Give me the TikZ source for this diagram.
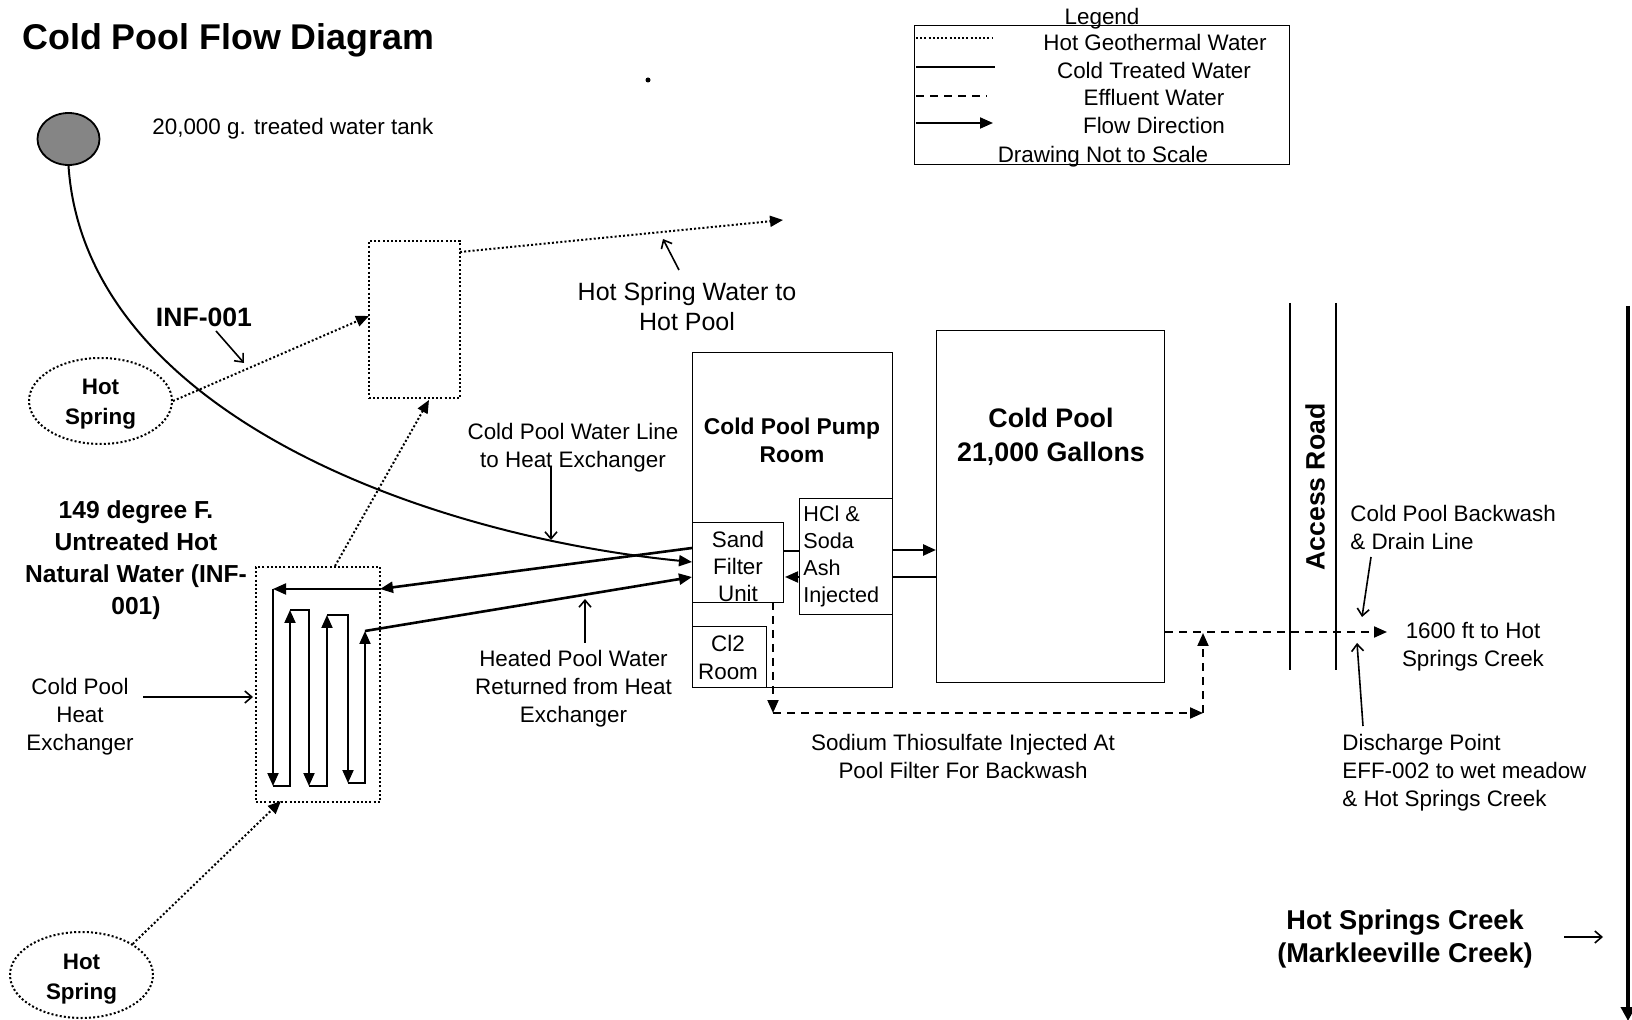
\documentclass[tikz,border=0pt]{standalone}
\usepackage{fontspec}
\setmainfont{Liberation Sans}
\usetikzlibrary{arrows.meta}
\usetikzlibrary{shapes.geometric}
\tikzset{
    lbl/.style={inner sep=0pt,align=center,yshift=-1.2pt,font=\fontsize{11.2}{14}\selectfont},
    lblbold/.style={inner sep=0pt,align=center,yshift=-1.2pt,font=\fontsize{11.4}{14.2}\selectfont\bfseries},
    room/.style={draw,line width=0.6pt,anchor=north west,inner sep=0pt},
    hotline/.style={line width=1pt,dash pattern=on 1pt off 1.1pt},
    coldline/.style={line width=0.7pt},
    effline/.style={line width=1pt,dash pattern=on 4pt off 3pt},
    flowtip/.style={-{Triangle[length=6.5pt,width=5.5pt]}},
    pipe/.style={line width=1pt,flowtip},
    mainpipe/.style={line width=1.3pt,flowtip},
    spring/.style={draw,ellipse,hotline,inner sep=0pt,minimum width=71.5pt,minimum height=43pt},
    callout/.style={line width=0.8pt,-{Straight Barb[length=3.5pt,width=6pt]}}
}
\begin{document}
\begin{tikzpicture}[x=0.5pt,y=-0.5pt]
        \useasboundingbox (0,0) rectangle (1632,1020);
        \node[inner sep=0pt,anchor=west,font=\fontsize{17.9}{20}\selectfont\bfseries] (title) at (22,40) {Cold Pool Flow Diagram};
        \fill (648,80) circle (2.5);

        \node[room,minimum width=187.5pt,minimum height=69.5pt] (legend) at (914,25) {};
        \node[lbl] (legendhead) at (1102,16) {Legend};
        \node[lbl] (legendgeo) at (1155,40) {Hot Geothermal Water};
        \node[lbl] (legendcold) at (1154,68) {Cold Treated Water};
        \node[lbl] (legendeff) at (1154,95.5) {Effluent Water};
        \node[lbl] (legendflow) at (1154,123) {Flow Direction};
        \node[lbl] (legendscale) at (1103,154) {Drawing Not to Scale};
        \foreach \nm/\yy/\xe/\sty in {geo/38/993/hotline,cold/67/995/coldline,eff/96/987/effline,flow/123/993/pipe}{
            \coordinate (\nm a) at (916,\yy);
            \coordinate (\nm b) at (\xe,\yy);
            \draw[\sty] (\nm a) -- (\nm b);
        }

        \node[draw,ellipse,line width=0.9pt,fill=black!48,inner sep=0pt,minimum width=31pt,minimum height=26pt] (tank) at (68.5,139) {};
        \node[lbl,anchor=west] (tanklabel) at (152,126) {20,000 g. treated water tank};
        \node[spring] (springtop) at (100.5,401) {};
        \node[spring] (springbot) at (81.5,975) {};
        \node[lblbold,font=\fontsize{11.2}{15}\selectfont\bfseries] (springtoplabel) at (100.5,402) {Hot\\Spring};
        \node[lblbold,font=\fontsize{11.2}{15}\selectfont\bfseries] (springbotlabel) at (81.5,977) {Hot\\Spring};
        \node[room,hotline,minimum width=45.5pt,minimum height=78.5pt] (tankbox) at (368,240) {};
        \node[room,hotline,minimum width=62pt,minimum height=117.5pt] (hxbox) at (255,566) {};
        \node[room,minimum width=100pt,minimum height=167.5pt] (pumproom) at (692,352) {};
        \node[room,minimum width=114pt,minimum height=176pt] (coldpool) at (936,330) {};
        \node[room,fill=white,minimum width=45.5pt,minimum height=40pt] (sandfilter) at (692,522) {};
        \node[room,fill=white,minimum width=46.5pt,minimum height=58pt] (hclbox) at (799,498) {};
        \node[room,fill=white,minimum width=37pt,minimum height=30.5pt] (clroom) at (692,626) {};

        \node[lblbold] (pumplabel) at (792,438) {Cold Pool Pump\\Room};
        \node[lblbold,font=\fontsize{13.4}{17}\selectfont\bfseries] (poollabel) at (1051,434.5) {Cold Pool\\21,000 Gallons};
        \node[lbl,font=\fontsize{11.2}{13.7}\selectfont] (sandlabel) at (738,564) {Sand\\Filter\\Unit};
        \node[lbl,align=left,anchor=west,font=\fontsize{10.8}{13.5}\selectfont] (hcllabel) at (803,554) {HCl \&\\Soda\\Ash\\Injected};
        \node[lbl] (cllabel) at (728,655) {Cl2\\Room};
        \node[lbl,font=\fontsize{12.5}{15}\selectfont] (hotpoollabel) at (687,304) {Hot Spring Water to\\Hot Pool};
        \node[lbl] (coldlinelabel) at (573,445) {Cold Pool Water Line\\to Heat Exchanger};
        \node[lbl] (heatedlabel) at (573.5,686) {Heated Pool Water\\Returned from Heat\\Exchanger};
        \node[lbl] (hxlabel) at (80,714) {Cold Pool\\Heat\\Exchanger};
        \node[lblbold,font=\fontsize{12.3}{16}\selectfont\bfseries] (untreated) at (136,558) {149 degree F.\\Untreated Hot\\Natural Water (INF-\\001)};
        \node[lblbold,font=\fontsize{13.3}{16}\selectfont\bfseries] (inflabel) at (204,315) {INF-001};
        \node[lbl] (thiolabel) at (963,754) {Sodium Thiosulfate Injected At\\Pool Filter For Backwash};
        \node[inner sep=0pt,font=\fontsize{13.3}{16}\selectfont\bfseries,rotate=90] (roadlabel) at (1315,487) {Access Road};
        \node[lbl,align=left,anchor=west] (backwashlabel) at (1350,525) {Cold Pool Backwash\\\& Drain Line};
        \node[lbl] (creeklabel) at (1473,644) {1600 ft to Hot\\Springs Creek};
        \node[lbl,align=left,anchor=west] (dischargelabel) at (1342,770) {Discharge Point\\EFF-002 to wet meadow\\\& Hot Springs Creek};
        \node[lblbold,font=\fontsize{13.6}{16.5}\selectfont\bfseries] (markleeville) at (1405,937) {Hot Springs Creek\\(Markleeville Creek)};

        \coordinate (hxa) at (380,589);
        \coordinate (hxb) at (273,589);
        \coordinate (hxc) at (273,786);
        \coordinate (hxd) at (290,786);
        \coordinate (hxe) at (290,610);
        \coordinate (hxf) at (309,610);
        \coordinate (hxg) at (309,786);
        \coordinate (hxh) at (327,786);
        \coordinate (hxi) at (327,615);
        \coordinate (hxj) at (348,615);
        \coordinate (hxk) at (348,783);
        \coordinate (hxl) at (365,783);
        \coordinate (hxm) at (365,631);
        \foreach \pa/\pb/\pc in {hxb/hxb/hxc,hxc/hxd/hxe,hxe/hxf/hxg,hxg/hxh/hxi,hxi/hxj/hxk,hxk/hxl/hxm}{
            \draw[pipe] (\pa) -- (\pb) -- (\pc);
        }
        \draw[pipe] (hxa) -- (hxb);

        \coordinate (returnout) at (692,548);
        \coordinate (heatedin) at (692,577);
        \coordinate (coldin) at (692,562);
        \draw[mainpipe] (returnout) -- (hxa);
        \draw[mainpipe] (hxm) -- (heatedin);
        \draw[pipe] (tank.south) .. controls (85,410) and (420,535) .. (coldin);

        \coordinate (hotpoolin) at (460,252);
        \coordinate (hotpoolend) at (783,220);
        \coordinate (tankboxin) at (369,316);
        \coordinate (tankboxtop) at (429,400);
        \coordinate (hxtop) at (335,566);
        \coordinate (hxbotin) at (281,801);
        \draw[hotline,flowtip] (hotpoolin) -- (hotpoolend);
        \draw[hotline,flowtip] (springtop.east) -- (tankboxin);
        \draw[hotline,flowtip] (hxtop) -- (tankboxtop);
        \draw[hotline,flowtip] (springbot.north east) -- (hxbotin);

        \coordinate (sandout) at (784,551);
        \coordinate (hclin) at (799,551);
        \coordinate (hclout) at (892,550);
        \coordinate (poolin) at (936,550);
        \coordinate (poolback) at (936,577);
        \coordinate (hclback) at (892,577);
        \coordinate (hclleft) at (799,577);
        \coordinate (sandback) at (785,577);
        \draw[line width=1.3pt] (sandout) -- (hclin);
        \draw[mainpipe] (hclout) -- (poolin);
        \draw[coldline] (poolback) -- (hclback);
        \draw[pipe] (hclleft) -- (sandback);

        \coordinate (filterdrain) at (773,602);
        \coordinate (thiocorner) at (773,713);
        \coordinate (thioend) at (1203,713);
        \coordinate (thiojoin) at (1203,633);
        \coordinate (pooldrain) at (1165,632);
        \coordinate (drainend) at (1387,632);
        \draw[effline,flowtip] (filterdrain) -- (thiocorner);
        \draw[effline,flowtip] (thiocorner) -- (thioend);
        \draw[effline,flowtip] (thioend) -- (thiojoin);
        \draw[effline,flowtip] (pooldrain) -- (drainend);

        \foreach \rx/\rn in {1290/a,1336/b}{
            \coordinate (road\rn top) at (\rx,303);
            \coordinate (road\rn bot) at (\rx,670);
            \draw[line width=0.7pt] (road\rn top) -- (road\rn bot);
        }
        \coordinate (edgetop) at (1628,306);
        \coordinate (edgebot) at (1628,1021);
        \draw[line width=2.2pt,-{Triangle[length=7pt,width=7pt]}] (edgetop) -- (edgebot);

        \coordinate (coa) at (216,331);
        \coordinate (cob) at (244,363);
        \coordinate (coc) at (679,270);
        \coordinate (cod) at (663,239);
        \coordinate (coe) at (551,467);
        \coordinate (cof) at (551,540);
        \coordinate (cog) at (585,643);
        \coordinate (coh) at (585,599);
        \coordinate (coi) at (143,697);
        \coordinate (coj) at (253,697);
        \coordinate (cok) at (1371,557);
        \coordinate (col) at (1362,617);
        \coordinate (com) at (1363,726);
        \coordinate (con) at (1357,643);
        \coordinate (coo) at (1564,937);
        \coordinate (cop) at (1603,937);
        \foreach \ca/\cb in {coa/cob,coc/cod,coe/cof,cog/coh,coi/coj,cok/col,com/con,coo/cop}{
            \draw[callout] (\ca) -- (\cb);
        }
    \end{tikzpicture}
\end{document}
